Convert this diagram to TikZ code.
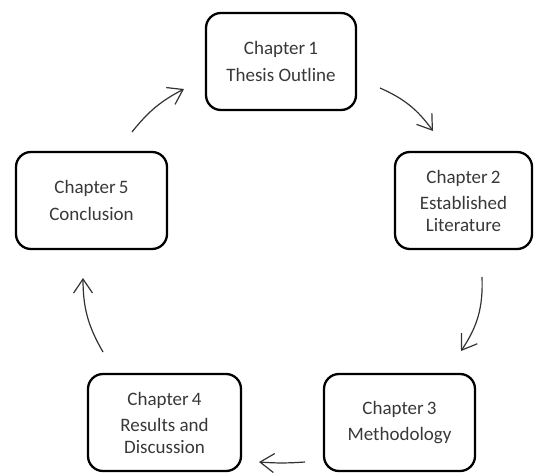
\documentclass[tikz,border=0pt]{standalone}
\usepackage{fontspec}
\setmainfont{Carlito}
\usetikzlibrary{arrows.meta}
\definecolor{txt}{HTML}{383838}
\definecolor{arr}{HTML}{333333}
\begin{document}
\begin{tikzpicture}[x=1pt,y=1pt,
  chapbox/.style={draw=black, line width=2.3pt, rounded corners=15pt,
    minimum height=97pt, align=center, text=txt, inner sep=0pt,
    font=\fontsize{19}{21.5}\selectfont},
  flow/.style={draw=arr, line width=1.2pt,
    -{Straight Barb[length=14pt,width=19pt,line width=1.2pt]}}]
\useasboundingbox (0,0) rectangle (537,474);
\node[chapbox, minimum width=150pt] (c1) at (281,412.5) {Chapter\,1\\[5pt]Thesis Outline};
\node[chapbox, minimum width=137pt] (c2) at (463.5,273.5) {Chapter\,2\\[5pt]Established\\Literature};
\node[chapbox, minimum width=151pt] (c3) at (399.5,51.5) {Chapter\,3\\[5pt]Methodology};
\node[chapbox, minimum width=153pt] (c4) at (164.5,51.5) {Chapter\,4\\[5pt]Results and\\Discussion};
\node[chapbox, minimum width=151pt] (c5) at (91.5,273.5) {Chapter\,5\\[5pt]Conclusion};
\coordinate (a12s) at (380,386);
\coordinate (a12e) at (433,343);
\coordinate (a23s) at (482,197);
\coordinate (a23e) at (461,123);
\coordinate (a34s) at (305,12);
\coordinate (a34e) at (259,12);
\coordinate (a45s) at (103,122);
\coordinate (a45e) at (83,196);
\coordinate (a51s) at (132,342);
\coordinate (a51e) at (184,385);
\draw[flow] (a12s) to[bend left=15] (a12e);
\draw[flow] (a23s) to[bend left=18] (a23e);
\draw[flow] (a34s) to[bend left=4] (a34e);
\draw[flow] (a45s) to[bend left=15] (a45e);
\draw[flow] (a51s) to[bend left=12] (a51e);
\end{tikzpicture}
\end{document}
